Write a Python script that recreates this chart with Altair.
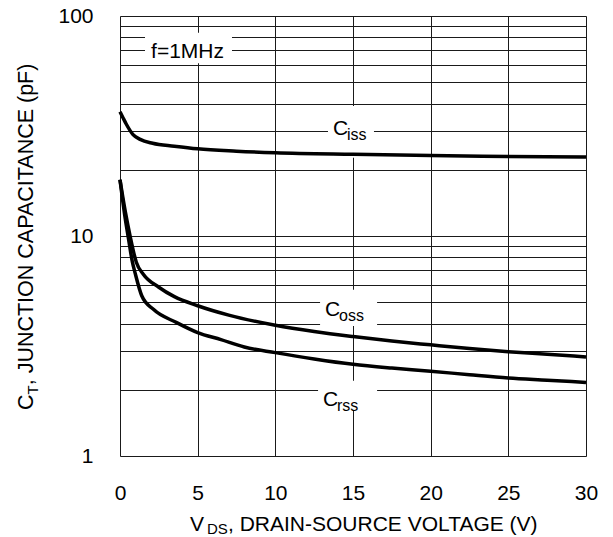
import altair as alt
import pandas as pd

FONT = "Liberation Sans"

# ---- curve data (V_DS in volts, capacitance in pF) ----
ciss_v = [0, 0.2, 0.4, 0.84, 1.3, 2.1, 3.5, 5, 7.5, 10, 15, 20, 25, 30]
ciss_c = [36.7, 34.4, 32.3, 28.9, 27.5, 26.4, 25.6, 24.9, 24.3, 23.9, 23.5, 23.2, 23.0, 22.85]

coss_v = [0, 0.35, 0.65, 1.05, 1.5, 2.5, 3.5, 5, 7, 10, 12.5, 15, 17.5, 20, 22.5, 25, 27.5, 30]
coss_c = [18, 12.8, 10.0, 7.6, 6.7, 5.85, 5.3, 4.82, 4.37, 3.93, 3.68, 3.49, 3.33, 3.2, 3.08, 2.98, 2.9, 2.82]

crss_v = [0, 0.3, 0.55, 0.8, 0.97, 1.4, 2.15, 3.65, 5, 6.5, 8, 10, 12.5, 15, 17.5, 20, 22.5, 25, 27.5, 30]
crss_c = [18, 12.5, 9.7, 7.6, 6.8, 5.35, 4.64, 4.04, 3.64, 3.38, 3.13, 2.95, 2.76, 2.61, 2.51, 2.43, 2.34, 2.26, 2.21, 2.16]

# ---- axis ticks / grid ----
x_ticks = [0, 5, 10, 15, 20, 25, 30]
y_grid = [1, 2, 3, 4, 5, 6, 7, 8, 9, 10, 20, 30, 40, 50, 60, 70, 80, 90, 100]
y_labels = [1, 10, 100]

# ---- annotations (in data units) ----
ann_main = ["f=1MHz", "C", "C", "C"]
ann_sub = ["", "iss", "oss", "rss"]
ann_v = [2.0, 13.71, 13.2, 13.07]
ann_c = [64.5, 28.8, 4.32, 1.684]
box_v0 = [1.61, 13.39, 12.88, 12.75]
box_v1 = [7.21, 16.35, 16.55, 16.55]
box_hi = [84, 39, 5.7, 2.2]
box_lo = [61, 22.7, 3.9, 1.61]

rows = []
for name, vs, cs in [("Ciss", ciss_v, ciss_c), ("Coss", coss_v, coss_c), ("Crss", crss_v, crss_c)]:
    for v, c in zip(vs, cs):
        rows.append({"series": name, "V": v, "C": c})
curves = pd.DataFrame(rows)

ann = pd.DataFrame({
    "main": ann_main, "sub": ann_sub, "V": ann_v, "C": ann_c,
    "v0": box_v0, "v1": box_v1, "hi": box_hi, "lo": box_lo,
})

xs = alt.Scale(domain=[0, 30], nice=False, zero=False)
ys = alt.Scale(type="log", domain=[1, 100], nice=False)

label_expr = "indexof([" + ",".join(str(v) for v in y_labels) + "], datum.value) >= 0 ? '' + datum.value : ''"

x_axis = alt.Axis(values=x_ticks, title=None, grid=True, domain=False, ticks=False, tickSize=0,
                  labelFlush=False, labelOverlap=False, labelPadding=26, labelFontSize=21,
                  labelFont=FONT, labelColor="black", gridColor="#1a1a1a", gridWidth=1, gridOpacity=1)
y_axis = alt.Axis(values=y_grid, title=None, grid=True, domain=False, ticks=False, tickSize=0,
                  labelExpr=label_expr, labelOverlap=False, labelFlush=False, labelPadding=27,
                  labelFontSize=21, labelFont=FONT, labelColor="black",
                  gridColor="#1a1a1a", gridWidth=1, gridOpacity=1)

boxes = alt.Chart(ann).mark_rect(fill="white", stroke=None).encode(
    x=alt.X("v0:Q", scale=xs, axis=x_axis),
    x2="v1:Q",
    y=alt.Y("hi:Q", scale=ys, axis=y_axis),
    y2="lo:Q",
)

lines = alt.Chart(curves).mark_line(color="black", strokeWidth=3.5, interpolate="monotone").encode(
    x=alt.X("V:Q", scale=xs),
    y=alt.Y("C:Q", scale=ys),
    detail="series:N",
)

main_txt = alt.Chart(ann).mark_text(align="left", baseline="alphabetic", fontSize=21, font=FONT,
                                    color="black").encode(
    x=alt.X("V:Q", scale=xs), y=alt.Y("C:Q", scale=ys), text="main:N")
sub_txt = alt.Chart(ann).mark_text(align="left", baseline="alphabetic", fontSize=16, font=FONT,
                                   color="black", dx=14, dy=5).encode(
    x=alt.X("V:Q", scale=xs), y=alt.Y("C:Q", scale=ys), text="sub:N")

one = pd.DataFrame({"k": [0]})


def piece(text, x, y, size, angle=0):
    kw = dict(text=text, align="left", baseline="alphabetic", fontSize=size, font=FONT, color="black")
    if angle:
        kw["angle"] = angle
    return alt.Chart(one).mark_text(**kw).encode(x=alt.value(x), y=alt.value(y))


titles = [
    piece("V", 70, 515, 21),
    piece("DS", 87, 517.5, 15),
    piece(", DRAIN-SOURCE VOLTAGE (V)", 108, 515, 21),
    piece("C", -87, 394, 21.5, 270),
    piece("T", -82, 378.5, 15, 270),
    piece(", JUNCTION CAPACITANCE (pF)", -87, 369.3, 21.5, 270),
]

chart = alt.layer(boxes, lines, main_txt, sub_txt, *titles).properties(
    width=466, height=440,
    padding={"left": 112, "top": 8, "right": 19, "bottom": 81},
    autosize=alt.AutoSizeParams(type="none"),
).configure_view(stroke="#666", strokeWidth=2).configure(font=FONT)

chart.save("out.html", embed_options={"renderer": "svg", "actions": False})
